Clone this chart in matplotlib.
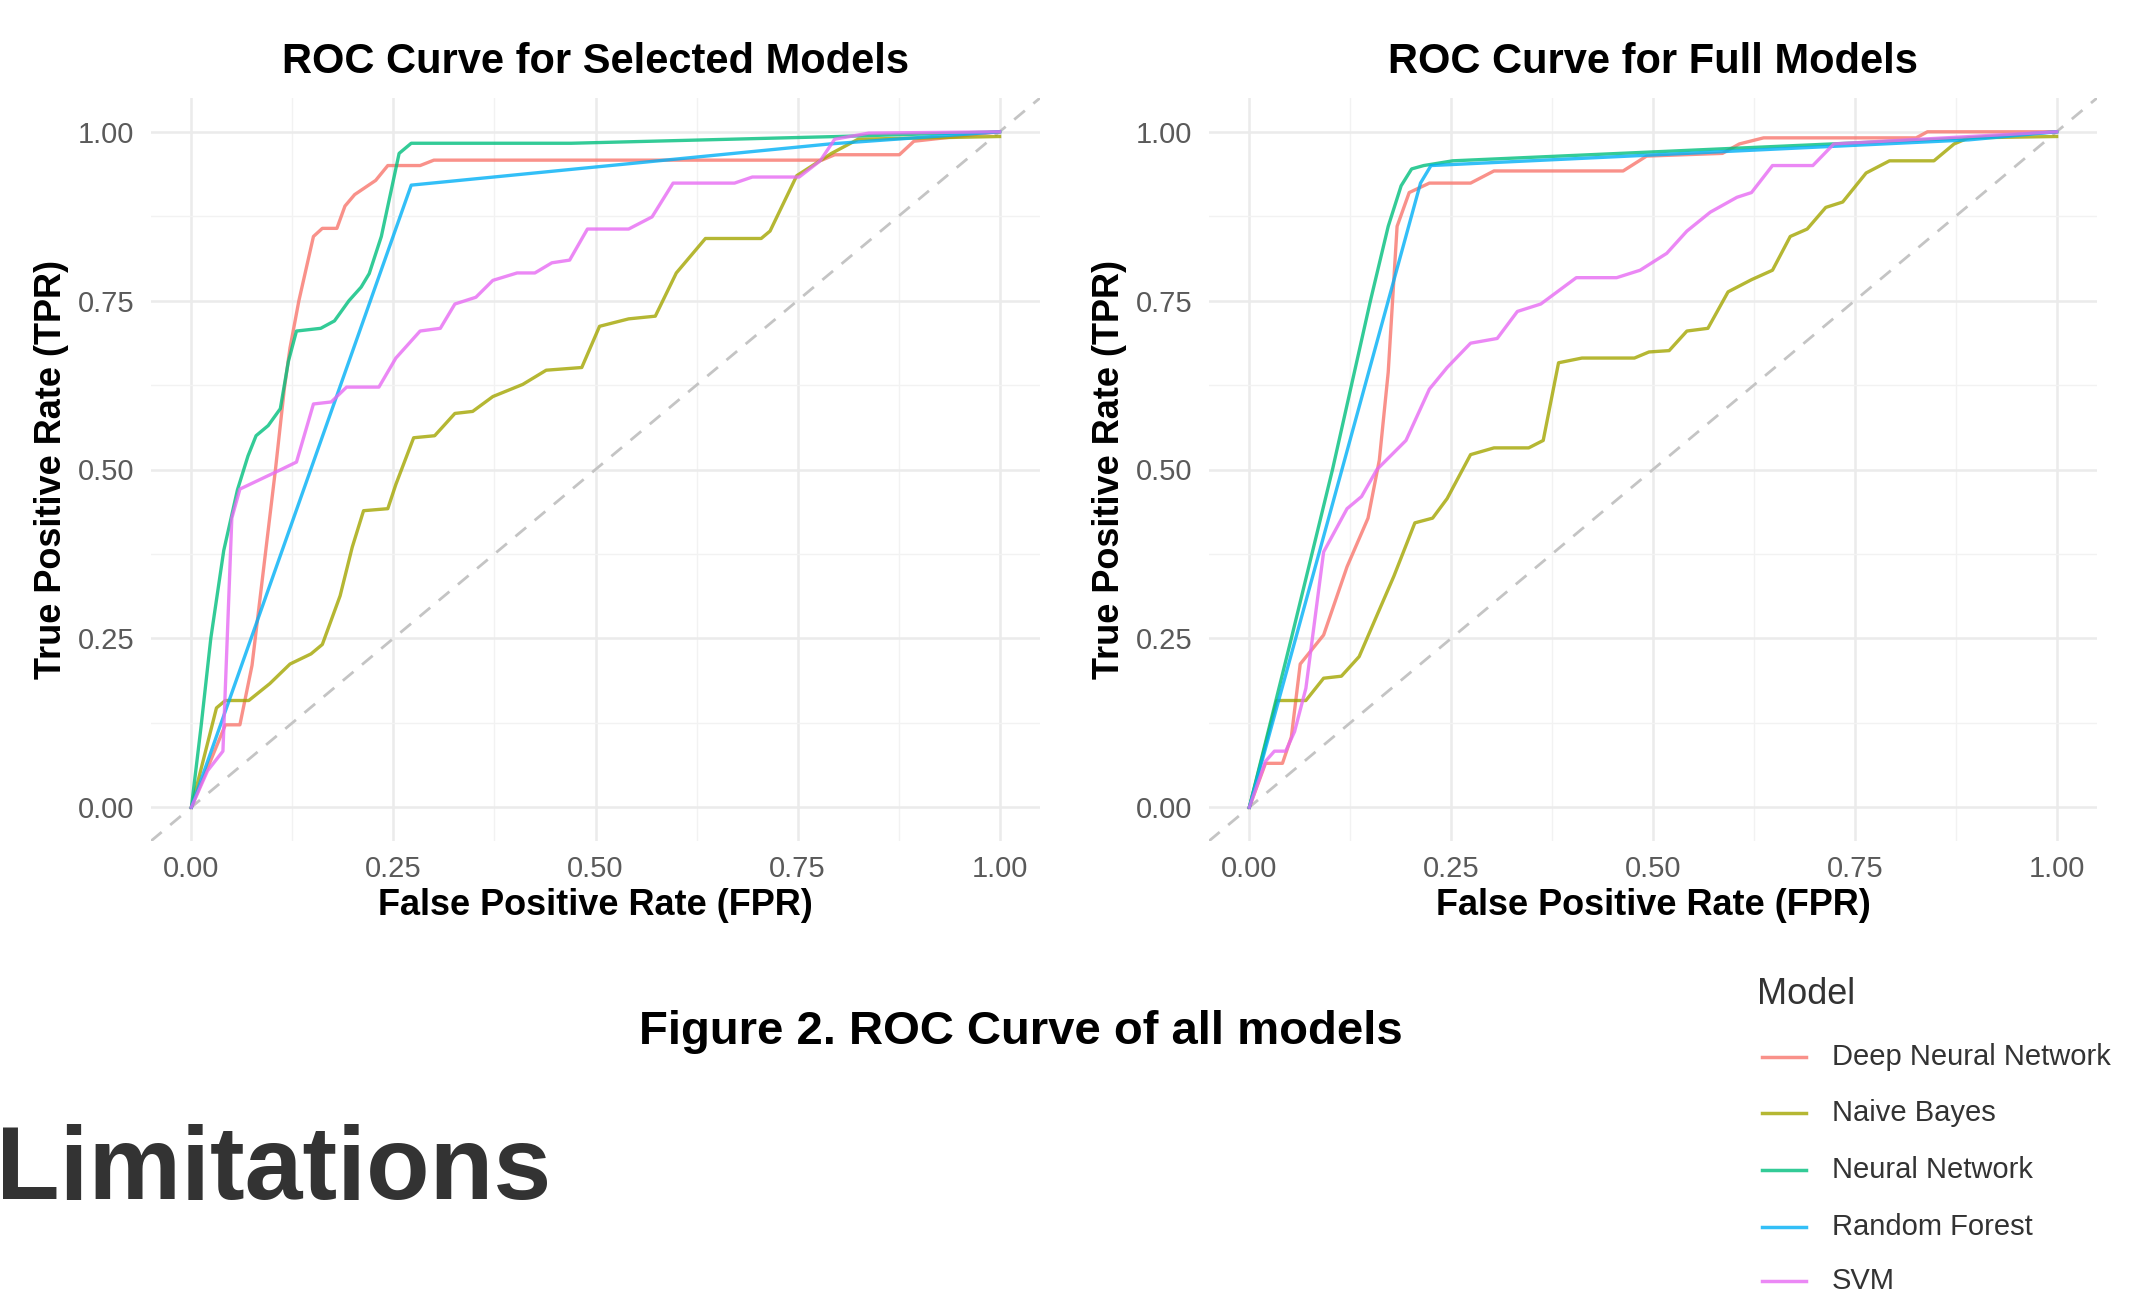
#
# ROC curves for selected and full models
#

# Dependencies
import matplotlib
matplotlib.use("Agg")
import matplotlib.pyplot as plt
from matplotlib.lines import Line2D

# Model names and colours (ggplot hue palette)
models = ["Deep Neural Network", "Naive Bayes", "Neural Network", "Random Forest", "SVM"]
colours = ["#F8766D", "#A3A500", "#00BF7D", "#00B0F6", "#E76BF3"]

# Selected models - (FPR, TPR)
dnnSelFpr = [0, 0.042, 0.06, 0.075, 0.09, 0.104, 0.115, 0.122, 0.133, 0.151, 0.162, 0.18, 0.19, 0.202, 0.228, 0.243, 0.283, 0.3, 0.78, 0.796, 0.876, 0.894, 1.0]
dnnSelTpr = [0, 0.122, 0.122, 0.21, 0.36, 0.5, 0.62, 0.68, 0.75, 0.845, 0.857, 0.857, 0.89, 0.907, 0.928, 0.95, 0.95, 0.958, 0.958, 0.966, 0.966, 0.986, 1.0]
nbSelFpr = [0, 0.031, 0.042, 0.071, 0.097, 0.122, 0.148, 0.162, 0.184, 0.199, 0.213, 0.243, 0.253, 0.275, 0.301, 0.326, 0.348, 0.373, 0.41, 0.439, 0.483, 0.505, 0.541, 0.574, 0.6, 0.636, 0.705, 0.716, 0.749, 0.792, 0.825, 1.0]
nbSelTpr = [0, 0.147, 0.158, 0.158, 0.183, 0.212, 0.227, 0.241, 0.313, 0.385, 0.439, 0.442, 0.478, 0.547, 0.55, 0.583, 0.586, 0.608, 0.626, 0.647, 0.651, 0.712, 0.723, 0.727, 0.791, 0.842, 0.842, 0.853, 0.935, 0.968, 0.989, 0.993]
nnSelFpr = [0, 0.012, 0.024, 0.04, 0.057, 0.07, 0.08, 0.095, 0.11, 0.12, 0.13, 0.16, 0.177, 0.195, 0.21, 0.22, 0.235, 0.257, 0.272, 0.47, 0.8, 1.0]
nnSelTpr = [0, 0.12, 0.25, 0.38, 0.47, 0.52, 0.55, 0.565, 0.59, 0.66, 0.705, 0.709, 0.72, 0.75, 0.77, 0.79, 0.845, 0.968, 0.983, 0.983, 0.993, 1.0]
rfSelFpr = [0, 0.272, 0.79, 1.0]
rfSelTpr = [0, 0.921, 0.982, 1.0]
svmSelFpr = [0, 0.02, 0.039, 0.05, 0.06, 0.111, 0.13, 0.151, 0.173, 0.192, 0.232, 0.253, 0.283, 0.308, 0.326, 0.352, 0.373, 0.403, 0.425, 0.446, 0.468, 0.49, 0.541, 0.57, 0.596, 0.672, 0.694, 0.752, 0.778, 0.796, 0.838, 1.0]
svmSelTpr = [0, 0.054, 0.083, 0.428, 0.471, 0.5, 0.511, 0.597, 0.6, 0.622, 0.622, 0.665, 0.705, 0.709, 0.745, 0.755, 0.78, 0.791, 0.791, 0.806, 0.81, 0.856, 0.856, 0.874, 0.924, 0.924, 0.933, 0.933, 0.957, 0.989, 0.998, 1.0]

# Full models - (FPR, TPR)
dnnFullFpr = [0, 0.02, 0.041, 0.052, 0.063, 0.092, 0.121, 0.147, 0.161, 0.172, 0.183, 0.198, 0.223, 0.274, 0.303, 0.463, 0.492, 0.586, 0.607, 0.637, 0.826, 0.84, 1.0]
dnnFullTpr = [0, 0.065, 0.065, 0.104, 0.212, 0.255, 0.356, 0.428, 0.514, 0.644, 0.86, 0.91, 0.924, 0.924, 0.942, 0.942, 0.964, 0.968, 0.982, 0.991, 0.991, 1.0, 1.0]
nbFullFpr = [0, 0.034, 0.07, 0.092, 0.114, 0.136, 0.158, 0.179, 0.205, 0.227, 0.245, 0.274, 0.303, 0.346, 0.364, 0.383, 0.412, 0.477, 0.495, 0.52, 0.542, 0.568, 0.593, 0.622, 0.648, 0.67, 0.691, 0.714, 0.735, 0.764, 0.793, 0.848, 0.873, 0.891, 1.0]
nbFullTpr = [0, 0.158, 0.158, 0.191, 0.194, 0.223, 0.284, 0.342, 0.421, 0.428, 0.457, 0.522, 0.532, 0.532, 0.543, 0.658, 0.665, 0.665, 0.674, 0.676, 0.705, 0.709, 0.763, 0.781, 0.795, 0.845, 0.856, 0.888, 0.896, 0.939, 0.957, 0.957, 0.982, 0.991, 0.993]
nnFullFpr = [0, 0.052, 0.103, 0.15, 0.172, 0.188, 0.201, 0.216, 0.252, 0.891, 1.0]
nnFullTpr = [0, 0.25, 0.5, 0.75, 0.86, 0.92, 0.945, 0.95, 0.957, 0.991, 1.0]
rfFullFpr = [0, 0.212, 0.225, 0.891, 1.0]
rfFullTpr = [0, 0.924, 0.95, 0.988, 1.0]
svmFullFpr = [0, 0.02, 0.031, 0.045, 0.056, 0.07, 0.092, 0.121, 0.139, 0.158, 0.194, 0.223, 0.245, 0.274, 0.307, 0.332, 0.361, 0.405, 0.455, 0.484, 0.517, 0.542, 0.571, 0.604, 0.622, 0.648, 0.698, 0.724, 1.0]
svmFullTpr = [0, 0.068, 0.083, 0.083, 0.112, 0.176, 0.378, 0.442, 0.46, 0.5, 0.543, 0.619, 0.651, 0.687, 0.694, 0.734, 0.745, 0.784, 0.784, 0.795, 0.82, 0.853, 0.881, 0.903, 0.91, 0.95, 0.95, 0.982, 1.0]

ticks = [0, 0.25, 0.5, 0.75, 1.0]
tickLabels = ["0.00", "0.25", "0.50", "0.75", "1.00"]
minorTicks = [0.125, 0.375, 0.625, 0.875]

plt.rcParams["font.family"] = ["Liberation Sans", "DejaVu Sans"]

W, H = 2134, 1291
fig = plt.figure(figsize=(W / 100, H / 100), dpi=100)

def drawPanel(rect, title, curves):
    ax = fig.add_axes(rect)
    # Grid like theme_minimal
    ax.set_xticks(ticks)
    ax.set_yticks(ticks)
    ax.set_xticks(minorTicks, minor=True)
    ax.set_yticks(minorTicks, minor=True)
    ax.set_xticklabels(tickLabels)
    ax.set_yticklabels(tickLabels)
    ax.grid(True, which="major", color="#EBEBEB", linewidth=1.8)
    ax.grid(True, which="minor", color="#F2F2F2", linewidth=1.0)
    ax.set_axisbelow(True)
    for s in ax.spines.values():
        s.set_visible(False)
    ax.tick_params(which="both", length=0)
    ax.tick_params(axis="x", labelsize=21, labelcolor="#5A5A5A", pad=10)
    ax.tick_params(axis="y", labelsize=21, labelcolor="#5A5A5A", pad=12)
    # Diagonal reference
    ax.plot([-0.05, 1.05], [-0.05, 1.05], color="#C4C4C4", linestyle=(0, (5, 4)), linewidth=2.0)
    # ROC curves
    for (fpr, tpr), c in zip(curves, colours):
        ax.plot(fpr, tpr, color=c, linewidth=2.4, alpha=0.8,
                solid_joinstyle="round")
    ax.set_xlim(-0.05, 1.05)
    ax.set_ylim(-0.05, 1.05)
    ax.set_title(title, fontsize=30, fontweight="bold", y=1.033, pad=0)
    ax.set_xlabel("False Positive Rate (FPR)", fontsize=26, fontweight="bold", va="center")
    ax.set_ylabel("True Positive Rate (TPR)", fontsize=26, fontweight="bold", va="center")
    ax.xaxis.set_label_coords(0.5, -0.087)
    ax.yaxis.set_label_coords(-0.112, 0.5)
    return ax

# Left and right panels
drawPanel([151 / W, 1 - 841 / H, 889 / W, 743 / H], "ROC Curve for Selected Models",
          [(dnnSelFpr, dnnSelTpr), (nbSelFpr, nbSelTpr), (nnSelFpr, nnSelTpr),
           (rfSelFpr, rfSelTpr), (svmSelFpr, svmSelTpr)])
drawPanel([1209 / W, 1 - 841 / H, 888 / W, 743 / H], "ROC Curve for Full Models",
          [(dnnFullFpr, dnnFullTpr), (nbFullFpr, nbFullTpr), (nnFullFpr, nnFullTpr),
           (rfFullFpr, rfFullTpr), (svmFullFpr, svmFullTpr)])

# Caption and heading
fig.text(1021 / W, 1 - 1032 / H, "Figure 2. ROC Curve of all models", fontsize=34,
         fontweight="bold", ha="center", va="center")
fig.text(-4 / W, 1 - 1172 / H, "Limitations", fontsize=75, fontweight="bold",
         color="#333333", ha="left", va="center")

# Legend (drawn by hand so it can run off the bottom like the original)
fig.text(1757 / W, 1 - 995 / H, "Model", fontsize=26, color="#333333", ha="left", va="center")
rowY = [1057, 1113, 1170, 1227, 1281]
for name, c, y in zip(models, colours, rowY):
    fig.add_artist(Line2D([1762 / W, 1806 / W], [1 - y / H, 1 - y / H], color=c, linewidth=2.5,
                          alpha=0.8, transform=fig.transFigure))
    fig.text(1832 / W, 1 - y / H, name, fontsize=21, color="#333333", ha="left", va="center")

fig.savefig("out.png", dpi=100)
